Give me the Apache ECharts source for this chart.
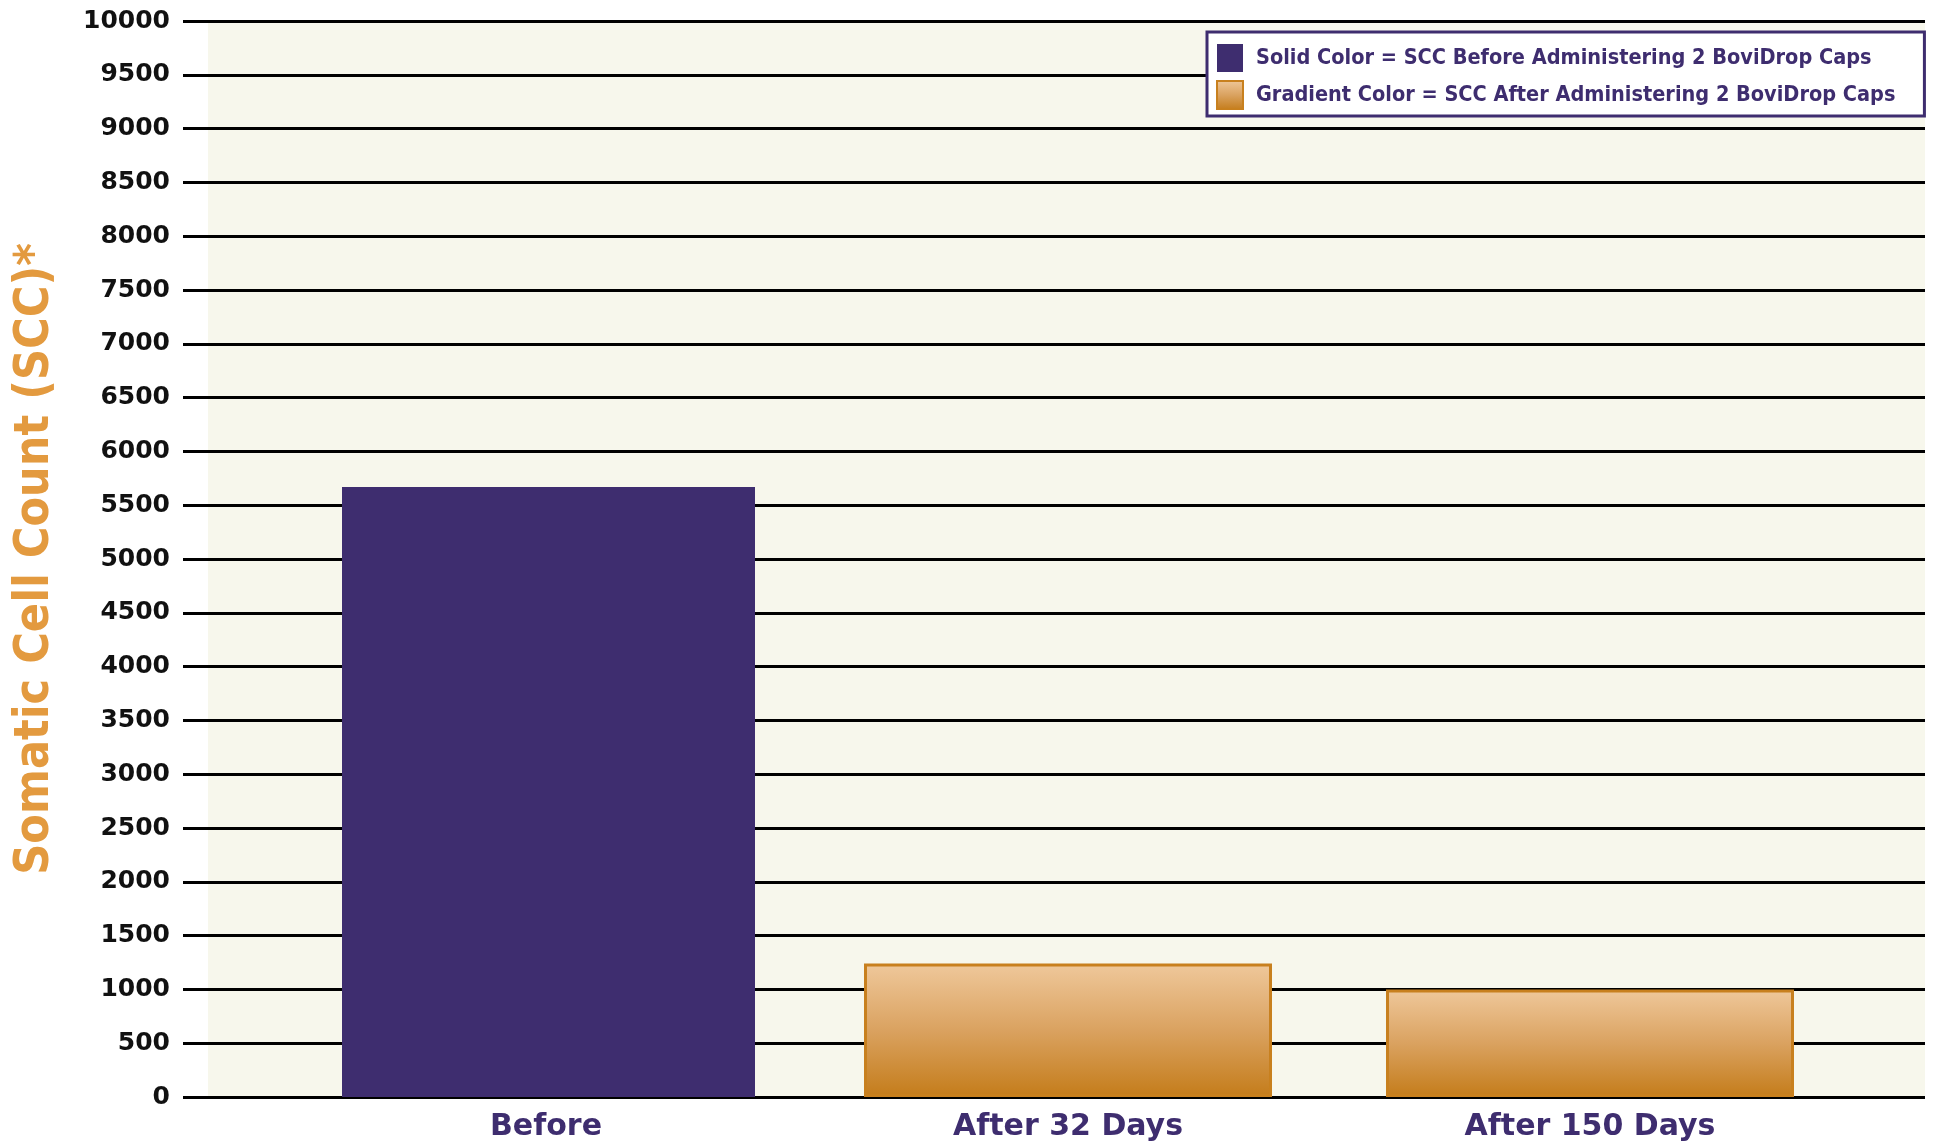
<!DOCTYPE html>
<html>
<head>
<meta charset="utf-8">
<title>Somatic Cell Count</title>
<script src="https://cdn.jsdelivr.net/npm/echarts@6/dist/echarts.min.js"></script>
<style>
  html, body { margin: 0; padding: 0; background: #ffffff; }
  #main { width: 1944px; height: 1144px; }
</style>
</head>
<body>
<div id="main"></div>
<script>
// data
var categories = ['Before', 'After 32 Days', 'After 150 Days'];
var beforeName = 'Solid Color = SCC Before Administering 2 BoviDrop Caps';
var afterName = 'Gradient Color = SCC After Administering 2 BoviDrop Caps';
var beforeValues = [5670, '-', '-'];
var afterValues = ['-', 1240, 1000];
var yMin = 0, yMax = 10000, yStep = 500;

var purple = '#3e2d6f';
var orange = '#e39a3f';
var narrow = '"DejaVu Sans Condensed", "DejaVu Sans", sans-serif';

var myChart = echarts.init(document.getElementById('main'));

var option = {
    backgroundColor: '#ffffff',
    animation: false,
    legend: {
        orient: 'vertical',
        left: 1207,
        top: 32,
        padding: [12, 29, 6, 9],
        backgroundColor: '#ffffff',
        borderColor: purple,
        borderWidth: 3,
        itemWidth: 26,
        itemHeight: 28,
        itemGap: 8,
        icon: 'rect',
        data: [beforeName, afterName],
        textStyle: {
            color: purple,
            fontFamily: narrow,
            fontWeight: 'bold',
            fontSize: 21.5,
            padding: [0, 0, 0, 8]
        }
    },
    grid: [
        { // background + gridlines
            left: 208, right: 19, top: 21, bottom: 47,
            outerBoundsMode: 'none',
            show: true, backgroundColor: '#f7f7ec', borderWidth: 0
        },
        { // bars
            left: 285, right: 93, top: 21, bottom: 47,
            outerBoundsMode: 'none'
        }
    ],
    xAxis: [
        { gridIndex: 0, type: 'value', min: 0, max: 1, show: false },
        {
            gridIndex: 1,
            type: 'category',
            data: categories,
            axisLine: { show: false },
            axisTick: { show: false },
            axisLabel: {
                margin: 15,
                color: purple,
                fontFamily: 'DejaVu Sans',
                fontWeight: 'bold',
                fontSize: 30
            }
        }
    ],
    yAxis: [
        {
            gridIndex: 0,
            type: 'value',
            min: yMin, max: yMax, interval: yStep,
            name: 'Somatic Cell Count (SCC)*',
            nameLocation: 'middle',
            nameRotate: 90,
            nameGap: 148,
            nameTextStyle: {
                color: orange,
                fontFamily: narrow,
                fontWeight: 'bold',
                fontSize: 48
            },
            axisLine: { show: false },
            axisTick: { show: true, length: 25, lineStyle: { color: '#000', width: 3 } },
            axisLabel: {
                margin: 38,
                color: '#111',
                fontFamily: 'DejaVu Sans',
                fontWeight: 'bold',
                fontSize: 25,
                formatter: function (v) { return String(v); }
            },
            splitLine: { show: true, lineStyle: { color: '#000', width: 3 } }
        },
        { gridIndex: 1, type: 'value', min: yMin, max: yMax, show: false }
    ],
    series: [
        {
            name: beforeName,
            type: 'bar',
            xAxisIndex: 1,
            yAxisIndex: 1,
            barWidth: 413,
            itemStyle: { color: purple },
            data: beforeValues
        },
        {
            name: afterName,
            type: 'bar',
            xAxisIndex: 1,
            yAxisIndex: 1,
            barWidth: 408,
            barGap: '-100%',
            itemStyle: {
                color: new echarts.graphic.LinearGradient(0, 0, 0, 1, [
                    { offset: 0, color: '#efc89b' },
                    { offset: 0.5, color: '#daa260' },
                    { offset: 1, color: '#c47c1a' }
                ]),
                borderColor: '#c8801e',
                borderWidth: 3
            },
            data: afterValues
        }
    ]
};

myChart.setOption(option);
</script>
</body>
</html>
